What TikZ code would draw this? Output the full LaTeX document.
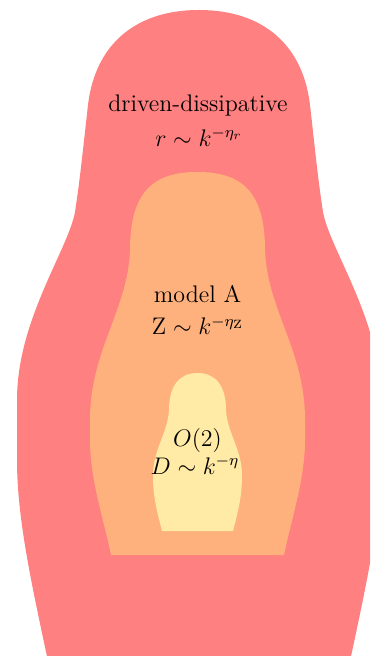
\documentclass[tikz,border=0pt]{standalone}
\usepackage{amsmath}
\definecolor{dollred}{RGB}{255,128,128}
\definecolor{dollorange}{RGB}{254,177,125}
\definecolor{dollyellow}{RGB}{255,234,166}
\usepackage{tikz}
\usetikzlibrary{positioning}

\begin{document}
\begin{tikzpicture}[
    x=0.5pt, y=-0.5pt,
    shell/.style={draw=none},
    lbl/.style  ={inner sep=0pt, anchor=base, font=\fontsize{12}{14}\selectfont}]
    \useasboundingbox (0,0) rectangle (370,656);
    % outer doll, cut by the frame
    \begin{scope}
      \clip (0,0) rectangle (370,656);
      \fill[shell, dollred] (56,700) .. controls (38,610) and (17,530) .. (17,460)
        -- (17,400) .. controls (17,320) and (68,250) .. (75,212)
        .. controls (80,180) and (84,140) .. (88,105)
        .. controls (95,45) and (135,10) .. (199,10)
        .. controls (263,10) and (303,45) .. (310,105)
        .. controls (314,140) and (318,180) .. (323,212)
        .. controls (330,250) and (381,320) .. (381,400) -- (381,460)
        .. controls (381,530) and (360,610) .. (342,700) -- cycle;
    \end{scope}
    % middle doll
    \fill[shell, dollorange] (111,555) .. controls (104,520) and (90,480) .. (90,440)
      -- (90,420) .. controls (90,350) and (128,310) .. (130,250)
      .. controls (130,190) and (155,172) .. (197.5,172)
      .. controls (240,172) and (265,190) .. (265,250)
      .. controls (267,310) and (305,350) .. (305,420) -- (305,440)
      .. controls (305,480) and (291,520) .. (284,555) -- cycle;
    % inner doll
    \fill[shell, dollyellow] (162,531) .. controls (156,508) and (153,495) .. (153,475)
      .. controls (153,450) and (168,432) .. (169,410)
      .. controls (169,385) and (180,373) .. (197.5,373)
      .. controls (215,373) and (226,385) .. (226,410)
      .. controls (227,432) and (242,450) .. (242,475)
      .. controls (242,495) and (239,508) .. (233,531) -- cycle;
    % labels
    \node[lbl] (dd)    at (198,111.5) {driven-dissipative};
    \node[lbl] (ddlaw) at (199,146.5) {$r \sim k^{-\eta_r}$};
    \node[lbl] (ma)    at (197.5,303) {model A};
    \node[lbl] (malaw) at (198,335)   {$\mathrm{Z} \sim k^{-\eta_{\mathrm{Z}}}$};
    \node[lbl] (on)    at (197.5,446) {$O(2)$};
    \node[lbl] (onlaw) at (195,474)   {$D \sim k^{-\eta}$};
  \end{tikzpicture}
\end{document}
